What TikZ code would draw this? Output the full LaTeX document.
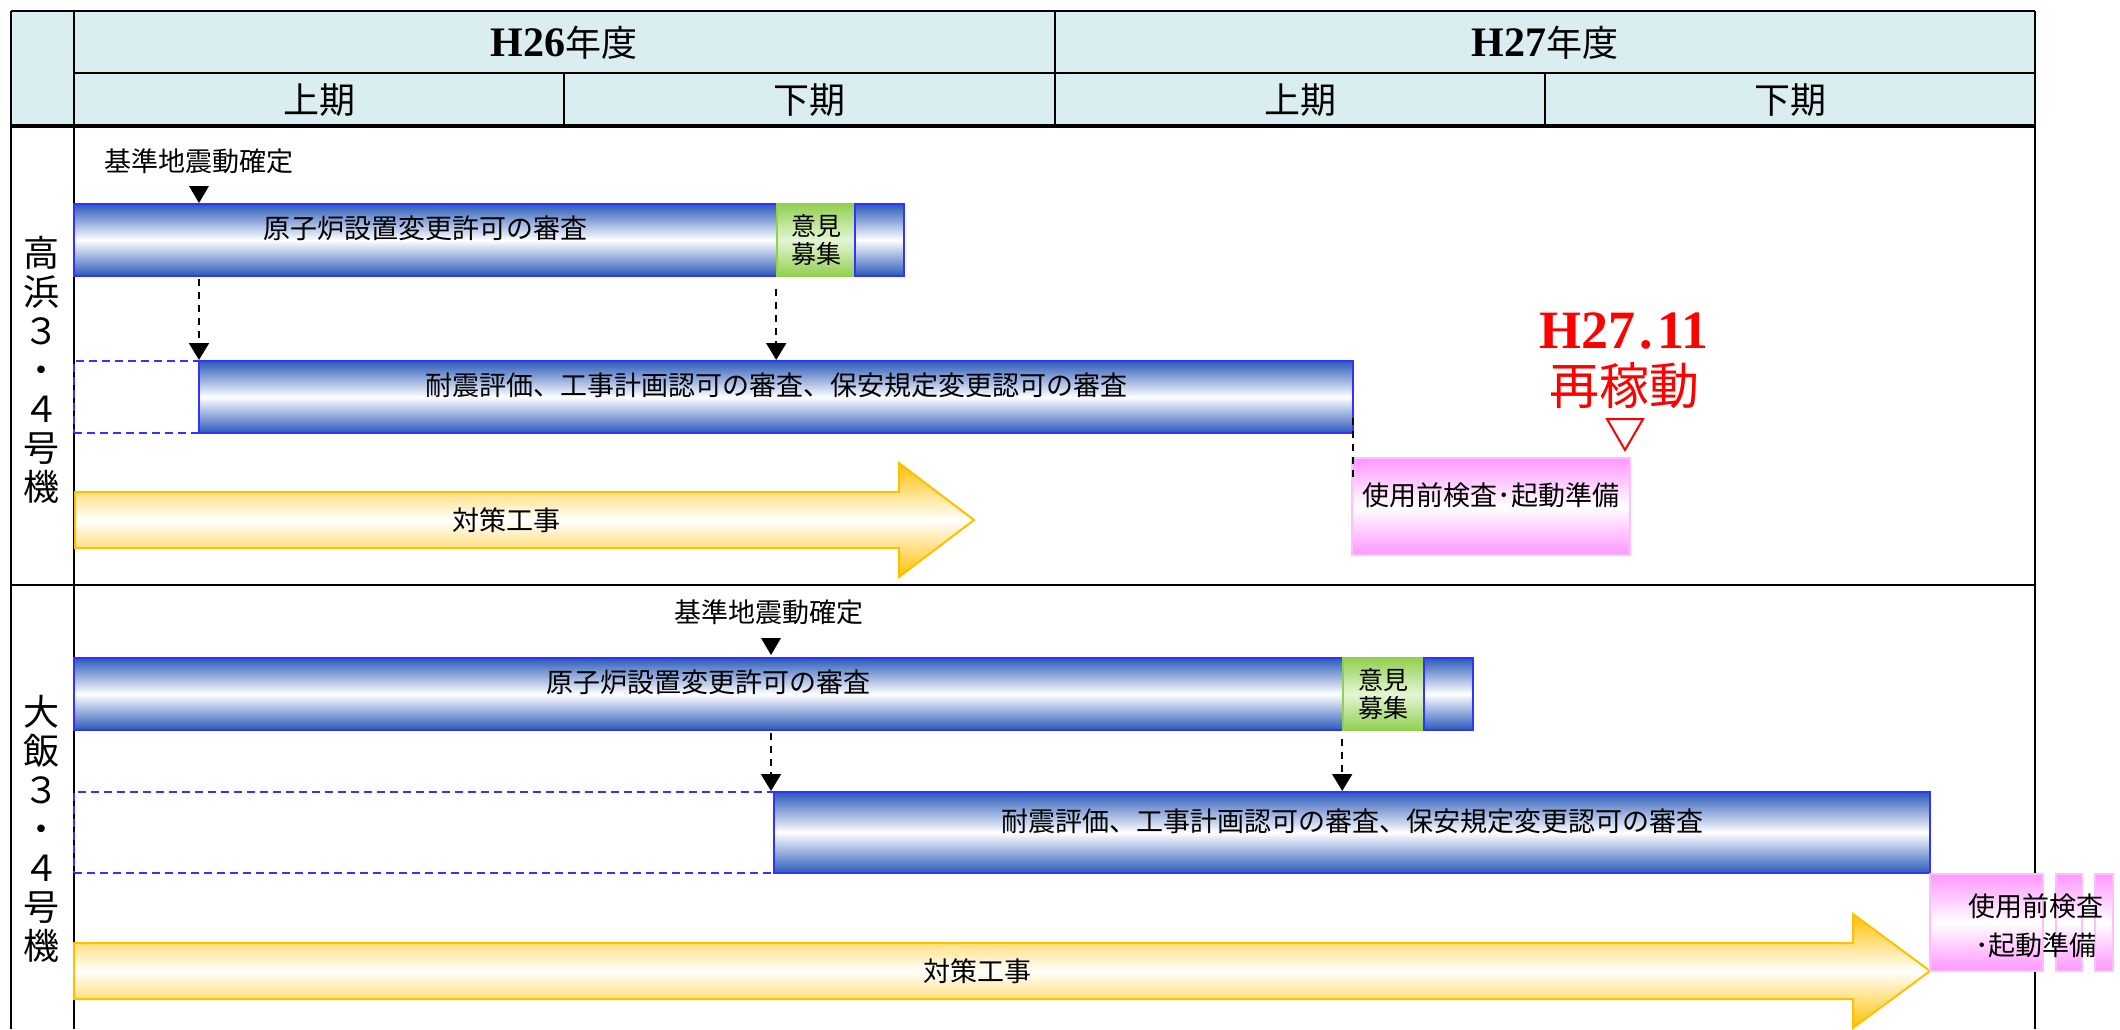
\documentclass[tikz,border=0pt]{standalone}
\usepackage{fontspec}
\newfontfamily\jp{Noto Sans CJK JP}
\newfontfamily\tms{Liberation Serif}
\usetikzlibrary{arrows.meta,fit}
\definecolor{hdr}{RGB}{218,238,241}
\definecolor{barblue}{RGB}{42,90,185}
\definecolor{barline}{RGB}{51,51,255}
\definecolor{grn}{RGB}{146,208,80}
\definecolor{grnl}{RGB}{228,245,212}
\definecolor{ylw}{RGB}{255,192,0}
\definecolor{pnk}{RGB}{255,150,255}
\definecolor{pnkline}{RGB}{255,190,255}
\begin{document}
\begin{tikzpicture}[x=0.5pt,y=-0.5pt,
  jpf/.style={font=\jp\fontsize{13.5pt}{16pt}\selectfont},
  hdrf/.style={font=\jp\fontsize{18pt}{20pt}\selectfont},
  sidef/.style={font=\jp\fontsize{18pt}{19.5pt}\selectfont, align=center, inner sep=0pt},
  tline/.style={line width=1.3pt},
  thinline/.style={line width=0.9pt},
  bluebar/.style={draw=barline, line width=1pt, top color=barblue, bottom color=barblue, middle color=white, inner sep=0pt, jpf},
  greenbox/.style={draw=grn, line width=0.8pt, top color=grn, bottom color=grn, middle color=grnl, inner sep=0pt, align=center, font=\jp\fontsize{12.5pt}{14pt}\selectfont},
  pinkbox/.style={draw=pnkline, line width=0.6pt, top color=pnk, bottom color=pnk, middle color=white, inner sep=0pt, jpf},
  dashbox/.style={draw=barline, line width=1pt, dash pattern=on 4pt off 2.5pt, inner sep=0pt},
  darr/.style={line width=1pt, dash pattern=on 3.5pt off 3pt, -{Triangle[width=10pt,length=8.5pt]}},
  dline/.style={line width=1.2pt, dash pattern=on 3.5pt off 3pt},
  yarrow/.style={draw=ylw, line width=1pt, top color=ylw, bottom color=ylw, middle color=white},
  lbl/.style={jpf, inner sep=0pt}
]
\useasboundingbox (0,0) rectangle (2120,1029);

% ---------- header fill ----------
\fill[hdr] (11,11) rectangle (2035,126);

% ---------- table lines ----------
\draw[tline] (11,11) -- (2035,11);
\draw[tline] (74,73) -- (2035,73);
\draw[line width=1.8pt] (11,126) -- (2035,126);
\draw[tline] (11,585) -- (2035,585);
\draw[tline] (11,11) -- (11,1029);
\draw[tline] (74,11) -- (74,1029);
\draw[tline] (2035,11) -- (2035,1029);
\draw[tline] (1055,11) -- (1055,126);
\draw[thinline] (564,73) -- (564,126);
\draw[thinline] (1545,73) -- (1545,126);

% ---------- header texts ----------
\node (h26) at (564,43) {{\tms\bfseries\fontsize{21pt}{24pt}\selectfont H26}{\jp\fontsize{18pt}{20pt}\selectfont 年度}};
\node (h27) at (1545,43) {{\tms\bfseries\fontsize{21pt}{24pt}\selectfont H27}{\jp\fontsize{18pt}{20pt}\selectfont 年度}};
\node[hdrf] (p1) at (319,100) {上期};
\node[hdrf] (p2) at (809,100) {下期};
\node[hdrf] (p3) at (1300,100) {上期};
\node[hdrf] (p4) at (1790,100) {下期};

% ---------- side labels ----------
\node[sidef] (takahama) at (42,370) {高\\浜\\３\\・\\４\\号\\機};
\node[sidef] (ohi) at (42,829) {大\\飯\\３\\・\\４\\号\\機};

% =========== Takahama ===========
\node[lbl] (kz1) at (199,161) {基準地震動確定};
\coordinate (tm1) at (199,203);
\fill (tm1) ++(-10,-17) -- ++(20,0) -- (tm1) -- cycle;

\node[bluebar, fit={(74,204)(777,276)}] (tb1) {原子炉設置変更許可の審査};
\node[greenbox, fit={(777,204)(855,276)}] (tg1) {};
\node[greenbox, draw=none, shading=axis, top color=grnl, bottom color=grnl, middle color=grnl, opacity=0, text opacity=1] (tg1t) at (tg1.center) {意見\\募集};
\node[bluebar, fit={(855,204)(904,276)}] (tb1b) {};

\node[dashbox, fit={(74,361)(199,433)}] (tdash) {};
\node[bluebar, fit={(199,361)(1353,433)}] (tb2) {耐震評価、工事計画認可の審査、保安規定変更認可の審査};

\draw[darr] ([yshift=-1pt]tm1 |- tb1.south) -- (tm1 |- tb2.north);
\draw[darr] ([yshift=-6pt]tg1.south west) -- (tg1.south west |- tb2.north);

\node[pinkbox, fit={(1352,458)(1630,555)}] (tp) {使用前検査･起動準備};
\coordinate (tl1) at (1353,418);
\coordinate (tl2) at (1353,482);
\draw[dline] (tl1) -- (tl2);

\shadedraw[yarrow] (75,492) -- (899,492) -- (899,463) -- (974,520) -- (899,577) -- (899,548) -- (75,548) -- cycle;
\node[lbl] (tk1) at (506,520) {対策工事};

\node[text=red, inner sep=0pt] (rdate) at (1624,331) {\tms\bfseries\fontsize{27pt}{30pt}\selectfont H27\kern0.08em.\kern0.08em 11};
\node[text=red, inner sep=0pt] (rsai) at (1624,386) {\jp\fontsize{25pt}{28pt}\selectfont 再稼動};
\coordinate (rt) at (1625,450);
\draw[red, line width=1pt] (rt) -- ++(-18,-31) -- ++(36,0) -- cycle;

% =========== Ohi ===========
\node[lbl] (kz2) at (769,612) {基準地震動確定};
\coordinate (bm1) at (771,655);
\fill (bm1) ++(-10,-17) -- ++(20,0) -- (bm1) -- cycle;

\node[bluebar, fit={(74,658)(1343,730)}] (bb1) {原子炉設置変更許可の審査};
\node[greenbox, fit={(1343,658)(1424,730)}] (bg1) {};
\node[greenbox, draw=none, shading=axis, top color=grnl, bottom color=grnl, middle color=grnl, opacity=0, text opacity=1] (bg1t) at (bg1.center) {意見\\募集};
\node[bluebar, fit={(1424,658)(1473,730)}] (bb1b) {};

\node[dashbox, fit={(74,792)(774,873)}] (bdash) {};
\node[bluebar, fit={(774,792)(1930,873)}] (bb2) {耐震評価、工事計画認可の審査、保安規定変更認可の審査};

\draw[darr] ([yshift=-1pt]bm1 |- bb1.south) -- (bm1 |- bb2.north);
\draw[darr] ([yshift=-4pt]bg1.south west) -- (bg1.south west |- bb2.north);

\shadedraw[yarrow] (74,943) -- (1853,943) -- (1853,914) -- (1930,971) -- (1853,1028) -- (1853,999) -- (74,999) -- cycle;
\node[lbl] (bk1) at (977,971) {対策工事};

\node[pinkbox, fit={(1930,874)(2043,971)}] (bp1) {};
\node[pinkbox, fit={(2056,874)(2082,971)}] (bp2) {};
\node[pinkbox, fit={(2095,874)(2113,971)}] (bp3) {};
\node[lbl, align=center, font=\jp\fontsize{13.5pt}{19.5pt}\selectfont] (bpt) at (2036,926) {使用前検査\\･起動準備};

\end{tikzpicture}
\end{document}
